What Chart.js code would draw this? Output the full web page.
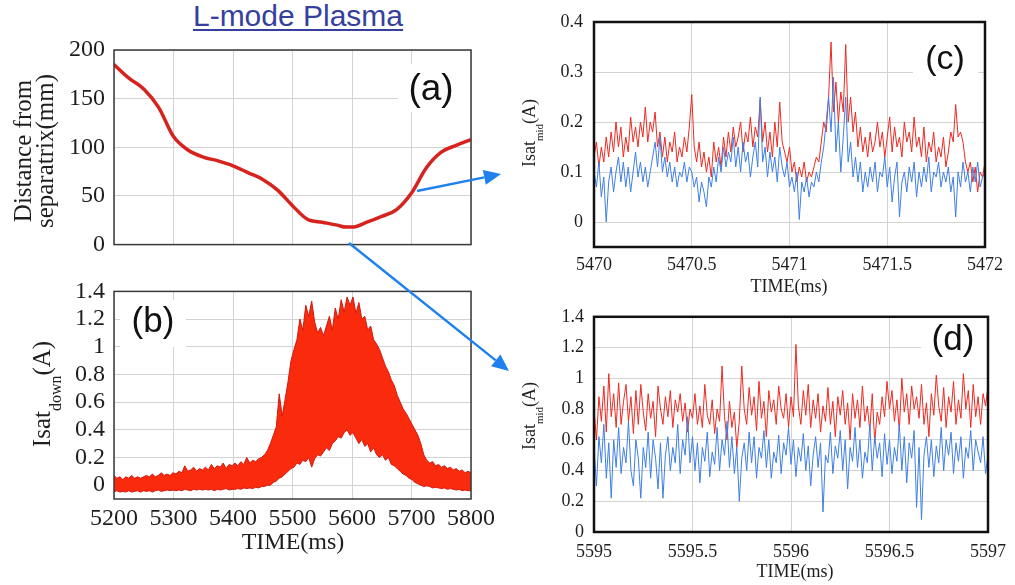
<!DOCTYPE html>
<html>
<head>
<meta charset="utf-8">
<title>L-mode Plasma</title>
<script src="https://cdn.jsdelivr.net/npm/chart.js@4.4.0/dist/chart.umd.min.js"></script>
<style>
    html, body { margin: 0; padding: 0; background: #fff; }
    body { width: 1015px; height: 585px; position: relative; overflow: hidden; }
    canvas.panel { position: absolute; }
    #title {
        position: absolute; left: 0; top: -1px; width: 596px; line-height: 34px;
        text-align: center; font: 30px 'Liberation Sans', Arial, sans-serif; color: #343f9e;
        text-decoration: underline; text-decoration-thickness: 2px; text-underline-offset: 3px;
    }
    #arrows { position: absolute; left: 0; top: 0; pointer-events: none; z-index: 5; }
</style>
</head>
<body>
<div id="title">L-mode Plasma</div>
<canvas id="chartA" class="panel" width="500" height="268" style="left:0;top:0"></canvas>
<canvas id="chartB" class="panel" width="500" height="317" style="left:0;top:268px"></canvas>
<canvas id="chartC" class="panel" width="515" height="296" style="left:500px;top:0"></canvas>
<canvas id="chartD" class="panel" width="515" height="289" style="left:500px;top:296px"></canvas>
<canvas id="arrows" width="1015" height="585"></canvas>

<script>
// ---- data ----

// (a) distance from separatrix (mm) vs time (ms)
const timeA = [5200, 5225, 5250, 5275, 5300, 5325, 5350, 5375, 5400, 5425, 5450, 5475, 5500,
               5525, 5550, 5575, 5590, 5600, 5625, 5650, 5675, 5700, 5725, 5750, 5775, 5800];
const distA = [185, 171, 160, 141, 111, 97, 90, 86, 81, 74, 67, 56, 40,
               26, 23, 20, 18, 18, 23, 29, 36, 53, 79, 95, 102, 108];

// (b) Isat_down envelope, one value every 5 ms from 5200 to 5800
const upperB = [0.07, 0.05, 0.06, 0.04, 0.06, 0.05, 0.07, 0.05, 0.06, 0.05, 0.06,
                0.07, 0.06, 0.08, 0.06, 0.07, 0.09, 0.07, 0.08, 0.07, 0.09,
                0.08, 0.1, 0.09, 0.14, 0.1, 0.11, 0.13, 0.1, 0.12, 0.11,
                0.13, 0.11, 0.15, 0.12, 0.14, 0.13, 0.16, 0.12, 0.15, 0.14,
                0.16, 0.14, 0.17, 0.15, 0.2, 0.16, 0.18, 0.17, 0.19, 0.2,
                0.22, 0.25, 0.3, 0.36, 0.42, 0.66, 0.5, 0.62, 0.75, 0.9,
                0.98, 1.05, 1.2, 1.12, 1.3, 1.22, 1.33, 1.18, 1.1, 1.14,
                1.08, 1.15, 1.22, 1.12, 1.28, 1.2, 1.34, 1.25, 1.36, 1.3,
                1.36, 1.24, 1.32, 1.2, 1.22, 1.12, 1.15, 1.05, 1.02, 0.98,
                0.92, 0.86, 0.82, 0.76, 0.72, 0.65, 0.6, 0.55, 0.52, 0.48,
                0.44, 0.4, 0.36, 0.3, 0.22, 0.18, 0.16, 0.17, 0.14, 0.15,
                0.13, 0.14, 0.12, 0.13, 0.11, 0.12, 0.1, 0.11, 0.09, 0.1, 0.09];
const lowerB = [-0.05, -0.04, -0.05, -0.045, -0.05, -0.04, -0.05, -0.045, -0.04, -0.05, -0.04,
                -0.045, -0.04, -0.05, -0.04, -0.035, -0.045, -0.04, -0.035, -0.04, -0.035,
                -0.04, -0.035, -0.04, -0.03, -0.035, -0.04, -0.03, -0.035, -0.03, -0.035,
                -0.03, -0.035, -0.03, -0.04, -0.03, -0.035, -0.03, -0.025, -0.035, -0.03,
                -0.03, -0.025, -0.03, -0.02, -0.025, -0.02, -0.025, -0.015, -0.02, -0.01,
                -0.01, 0.0, 0.0, 0.02, 0.03, 0.05, 0.06, 0.08, 0.1, 0.12,
                0.13, 0.16, 0.15, 0.18, 0.17, 0.2, 0.13, 0.19, 0.22, 0.21,
                0.24, 0.27, 0.25, 0.3, 0.32, 0.35, 0.34, 0.38, 0.4, 0.36,
                0.38, 0.34, 0.3, 0.33, 0.28, 0.3, 0.24, 0.27, 0.22, 0.2,
                0.22, 0.18, 0.2, 0.15, 0.14, 0.12, 0.1, 0.08, 0.07, 0.05,
                0.04, 0.02, 0.01, 0.0, -0.01, -0.005, -0.01, -0.02, -0.015, -0.02,
                -0.025, -0.02, -0.03, -0.025, -0.03, -0.035, -0.03, -0.04, -0.035, -0.04, -0.04];

// (c) Isat_mid, 5470 - 5472 ms
const redC = [0.13, 0.16, 0.11, 0.15, 0.12, 0.17, 0.13, 0.18, 0.14,
              0.2, 0.15, 0.19, 0.13, 0.17, 0.14, 0.21, 0.16, 0.19, 0.15, 0.2, 0.17, 0.23, 0.16, 0.2, 0.18,
              0.22, 0.15, 0.18, 0.13, 0.17, 0.12, 0.16, 0.14, 0.18, 0.12, 0.15, 0.13,
              0.17, 0.14, 0.19, 0.255, 0.15, 0.12, 0.16, 0.11,
              0.14, 0.1, 0.13, 0.09, 0.16, 0.12, 0.15, 0.11, 0.17, 0.13, 0.18, 0.14,
              0.19, 0.15, 0.17, 0.2, 0.14, 0.18, 0.16, 0.21, 0.15, 0.19, 0.17, 0.245,
              0.16, 0.2, 0.14, 0.18, 0.13, 0.2, 0.15, 0.24, 0.16, 0.14, 0.12, 0.15,
              0.1, 0.12, 0.08, 0.11, 0.09, 0.12, 0.08, 0.1, 0.09, 0.11, 0.13, 0.12,
              0.16, 0.2, 0.18, 0.25, 0.36, 0.22,
              0.28, 0.2, 0.26, 0.22, 0.355, 0.2, 0.25, 0.18,
              0.22, 0.15, 0.19, 0.14, 0.17, 0.13,
              0.18, 0.14, 0.16, 0.2, 0.15, 0.18, 0.13, 0.17, 0.21, 0.14, 0.19, 0.15, 0.17, 0.13, 0.2, 0.16,
              0.18, 0.14, 0.21, 0.15, 0.17, 0.13, 0.19, 0.12, 0.16, 0.14, 0.18, 0.12, 0.15, 0.13, 0.17, 0.11,
              0.14, 0.18, 0.16, 0.235, 0.17, 0.18, 0.16, 0.12,
              0.1, 0.12, 0.08, 0.11, 0.06, 0.1, 0.09, 0.12];
const blueC = [0.1, 0.07, 0.12, 0.05, 0.09, 0.0, 0.08, 0.11, 0.06,
               0.1, 0.13, 0.08, 0.12, 0.07, 0.11, 0.06, 0.1, 0.14, 0.09, 0.12, 0.08, 0.11, 0.07, 0.1, 0.13,
               0.16, 0.11, 0.17, 0.1, 0.13, 0.09, 0.12, 0.08, 0.11, 0.07, 0.1, 0.09,
               0.12, 0.08, 0.11, 0.1, 0.07, 0.09, 0.04, 0.08,
               0.06, 0.03, 0.09, 0.07, 0.11, 0.08, 0.13, 0.1, 0.15, 0.11, 0.14, 0.12,
               0.17, 0.11, 0.15, 0.1, 0.16, 0.12, 0.14, 0.09, 0.13, 0.16, 0.11, 0.25,
               0.12, 0.15, 0.09, 0.14, 0.1, 0.13, 0.08, 0.15, 0.11, 0.09, 0.12, 0.07,
               0.09, 0.06, 0.1, 0.005, 0.08, 0.06, 0.09, 0.05, 0.08, 0.07, 0.1, 0.08,
               0.12, 0.15, 0.2, 0.25, 0.18, 0.29,
               0.14, 0.2, 0.1, 0.17, 0.25, 0.12, 0.16, 0.09,
               0.13, 0.08, 0.12, 0.06, 0.1, 0.07,
               0.11, 0.08, 0.12, 0.06, 0.1, 0.09, 0.13, 0.07, 0.11, 0.04, 0.09, 0.12, 0.01, 0.08, 0.1, 0.06,
               0.11, 0.08, 0.12, 0.05, 0.1, 0.07, 0.11, 0.08, 0.13, 0.06, 0.1, 0.09, 0.12, 0.07, 0.1, 0.08,
               0.11, 0.06, 0.09, 0.01, 0.1, 0.07, 0.12, 0.08,
               0.1, 0.06, 0.11, 0.08, 0.12, 0.07, 0.09, 0.1];

// (d) Isat_mid, 5595 - 5597 ms
const redD = [0.8, 0.6, 0.88, 0.72, 0.95, 0.65, 1.03, 0.75, 0.9, 0.68, 0.97, 0.7, 0.85, 0.96, 0.72, 0.88, 0.64, 0.92, 0.7, 0.96,
              0.78, 0.66, 0.9, 0.74, 0.85, 0.62, 0.95, 0.8, 0.7, 0.88, 0.75, 0.92, 0.68, 0.86, 0.78, 0.9, 0.72, 0.84, 0.65, 0.8,
              0.74, 0.9, 0.7, 0.82, 0.68, 0.96, 0.76, 0.7, 0.86, 0.64, 0.8, 0.72, 1.08, 0.75, 0.6, 0.85, 0.68, 0.78, 0.55, 0.72,
              1.08, 0.8, 0.7, 0.94, 0.76, 0.88, 0.66, 0.98, 0.74, 0.85, 0.62, 0.92, 0.78, 0.86, 0.7, 0.95, 0.8, 0.74, 0.9, 0.68,
              0.88, 0.75, 1.22, 0.82, 0.7, 0.92, 0.76, 0.96, 0.68, 0.86, 0.74, 0.9, 0.65, 0.82, 0.72, 0.94, 0.7, 0.85, 0.62, 0.88,
              0.76, 0.92, 0.7, 0.84, 0.6, 0.9, 0.74, 0.86, 0.68, 0.95, 0.72, 0.82, 0.66, 0.9, 0.58, 0.78, 0.7, 0.88, 0.75, 0.98,
              0.8, 0.92, 0.72, 0.86, 0.66, 1.0, 0.78, 0.9, 0.7, 0.95, 0.8, 0.88, 0.74, 0.96, 0.7, 0.84, 0.62, 0.9, 0.76, 1.02,
              0.82, 0.72, 0.94, 0.68, 0.88, 0.78, 0.98, 0.7, 0.86, 0.74, 1.03, 0.8, 0.92, 0.68, 0.96, 0.75, 0.88, 0.7, 0.9, 0.82,
              0.95];
const blueD = [0.55, 0.3, 0.62, 0.45, 0.7, 0.35, 0.58, 0.22, 0.6, 0.42, 0.68, 0.38, 0.55, 0.45, 0.72, 0.4, 0.3, 0.6, 0.48, 0.22,
               0.55, 0.42, 0.65, 0.35, 0.6, 0.48, 0.28, 0.58, 0.22, 0.5, 0.62, 0.4, 0.55, 0.45, 0.7, 0.38, 0.6, 0.5, 0.75, 0.45,
               0.62, 0.4, 0.58, 0.32, 0.55, 0.46, 0.65, 0.36, 0.52, 0.44, 0.68, 0.4, 0.6, 0.5, 0.72, 0.42, 0.62, 0.38, 0.55, 0.2,
               0.48, 0.58, 0.4, 0.65, 0.45, 0.62, 0.35, 0.55, 0.48, 0.66, 0.42, 0.6, 0.35, 0.52, 0.45, 0.63, 0.38, 0.58, 0.5, 0.68,
               0.44, 0.6, 0.36, 0.55, 0.46, 0.64, 0.4, 0.56, 0.3, 0.5, 0.62, 0.42, 0.58, 0.13, 0.5, 0.45, 0.65, 0.38, 0.56, 0.48,
               0.66, 0.4, 0.6, 0.28, 0.55, 0.46, 0.68, 0.42, 0.6, 0.35, 0.52, 0.45, 0.7, 0.4, 0.62, 0.48, 0.58, 0.36, 0.64, 0.44,
               0.6, 0.38, 0.55, 0.46, 0.7, 0.4, 0.62, 0.32, 0.58, 0.48, 0.66, 0.16, 0.55, 0.08, 0.5, 0.62, 0.42, 0.6, 0.36, 0.56,
               0.45, 0.68, 0.4, 0.6, 0.5, 0.65, 0.38, 0.58, 0.46, 0.62, 0.35, 0.55, 0.48, 0.66, 0.4, 0.6, 0.52, 0.45, 0.62, 0.38,
               0.5];

// tick values
const xTicksAB = [5200, 5300, 5400, 5500, 5600, 5700, 5800];
const yTicksA = [0, 50, 100, 150, 200];
const yTicksB = [0, 0.2, 0.4, 0.6, 0.8, 1, 1.2, 1.4];
const xTicksC = [5470, 5470.5, 5471, 5471.5, 5472];
const yTicksC = [0, 0.1, 0.2, 0.3, 0.4];
const xTicksD = [5595, 5595.5, 5596, 5596.5, 5597];
const yTicksD = [0, 0.2, 0.4, 0.6, 0.8, 1, 1.2, 1.4];

document.addEventListener('DOMContentLoaded', function() {
    const colors = {
        curve: '#d6231e',
        fill: '#fa2a0c',
        fillEdge: '#d11a10',
        red: '#ec2a22',
        blue: '#3f7fe4',
        grid: '#d3d3d3',
        text: '#1e1e1e',
        arrow: '#1f80ee'
    };
    const serif = '"Liberation Serif", "Times New Roman", serif';
    const sans = '"Liberation Sans", Arial, sans-serif';

    // spread y-values over an evenly sampled time window
    function toPoints(values, t0, t1) {
        const step = (t1 - t0) / (values.length - 1);
        return values.map((v, i) => ({ x: t0 + i * step, y: v }));
    }

    // frame, label box, axis titles
    const panelDeco = {
        id: 'panelDeco',
        afterDatasetsDraw(chart, args, o) {
            const ctx = chart.ctx;
            const a = chart.chartArea;
            ctx.save();
            // white box behind the panel letter
            ctx.fillStyle = '#fff';
            ctx.fillRect(o.box[0] - o.left, o.box[1] - o.top, o.box[2] - o.box[0], o.box[3] - o.box[1]);
            ctx.fillStyle = '#111';
            ctx.font = o.labelSize + 'px ' + sans;
            ctx.textAlign = 'center';
            ctx.textBaseline = 'middle';
            ctx.fillText(o.label, o.labelX - o.left, o.labelY - o.top);

            // frame
            ctx.strokeStyle = o.frameColor;
            ctx.lineWidth = o.frameWidth;
            ctx.strokeRect(a.left, a.top, a.right - a.left, a.bottom - a.top);

            // rotated y titles (with subscripts)
            ctx.fillStyle = colors.text;
            ctx.textAlign = 'left';
            ctx.textBaseline = 'alphabetic';
            o.yTitles.forEach(function(run) {
                let total = 0;
                run.parts.forEach(function(p) {
                    ctx.font = p[1] + 'px ' + serif;
                    total += ctx.measureText(p[0]).width;
                });
                ctx.save();
                ctx.translate(run.x - o.left, run.y - o.top);
                ctx.rotate(-Math.PI / 2);
                let pos = -total / 2;
                run.parts.forEach(function(p) {
                    ctx.font = p[1] + 'px ' + serif;
                    ctx.fillText(p[0], pos, p[2]);
                    pos += ctx.measureText(p[0]).width;
                });
                ctx.restore();
            });

            // x title
            if (o.xTitle) {
                ctx.font = o.xTitle.size + 'px ' + serif;
                ctx.textAlign = 'center';
                ctx.textBaseline = 'middle';
                ctx.fillText(o.xTitle.text, o.xTitle.x - o.left, o.xTitle.y - o.top);
            }
            ctx.restore();
        }
    };

    function panelOptions(cfg) {
        return {
            responsive: false,
            animation: false,
            layout: { padding: cfg.padding },
            elements: { point: { radius: 0 } },
            plugins: {
                legend: { display: false },
                tooltip: { enabled: false },
                panelDeco: cfg.deco
            },
            scales: {
                x: {
                    type: 'linear',
                    min: cfg.xTicks[0],
                    max: cfg.xTicks[cfg.xTicks.length - 1],
                    afterBuildTicks: s => { s.ticks = cfg.xTicks.map(v => ({ value: v })); },
                    afterFit: s => { s.height = cfg.xAxisH; },
                    grid: { color: colors.grid, drawTicks: false },
                    border: { display: false },
                    ticks: {
                        display: cfg.showX,
                        padding: cfg.xPad,
                        maxRotation: 0,
                        autoSkip: false,
                        color: colors.text,
                        font: { family: serif, size: cfg.tickSize },
                        callback: v => String(v)
                    }
                },
                y: {
                    min: cfg.yMin,
                    max: cfg.yMax,
                    afterBuildTicks: s => { s.ticks = cfg.yTicks.map(v => ({ value: v })); },
                    afterFit: s => { s.width = cfg.yAxisW; },
                    grid: { color: colors.grid, drawTicks: false },
                    border: { display: false },
                    ticks: {
                        padding: cfg.yPad,
                        autoSkip: false,
                        color: colors.text,
                        font: { family: serif, size: cfg.tickSize },
                        callback: v => String(v)
                    }
                }
            }
        };
    }

    // (a) distance from separatrix
    new Chart(document.getElementById('chartA'), {
        type: 'line',
        data: {
            datasets: [{
                data: timeA.map((t, i) => ({ x: t, y: distA[i] })),
                borderColor: colors.curve,
                borderWidth: 3.5,
                cubicInterpolationMode: 'monotone',
                fill: false
            }]
        },
        options: panelOptions({
            padding: { top: 50, left: 0, right: 29, bottom: 0 },
            xTicks: xTicksAB, yTicks: yTicksA, yMin: 0, yMax: 200,
            xAxisH: 14, yAxisW: 114, showX: false, xPad: 5, yPad: 9, tickSize: 24,
            deco: {
                left: 0, top: 0,
                box: [398, 64, 470, 112], label: '(a)', labelX: 431, labelY: 90, labelSize: 37,
                frameColor: '#3a3a3a', frameWidth: 1.5,
                yTitles: [
                    { x: 31, y: 151, parts: [['Distance from', 25, 0]] },
                    { x: 53, y: 151, parts: [['separatrix(mm)', 25, 0]] }
                ]
            }
        }),
        plugins: [panelDeco]
    });

    // (b) Isat_down over the whole discharge window
    new Chart(document.getElementById('chartB'), {
        type: 'line',
        data: {
            datasets: [
                {
                    data: toPoints(lowerB, 5200, 5800),
                    borderColor: colors.fillEdge,
                    borderWidth: 1,
                    fill: false
                },
                {
                    data: toPoints(upperB, 5200, 5800),
                    borderColor: colors.fillEdge,
                    borderWidth: 1,
                    backgroundColor: colors.fill,
                    fill: '-1'
                }
            ]
        },
        options: panelOptions({
            padding: { top: 22, left: 0, right: 29, bottom: 0 },
            xTicks: xTicksAB, yTicks: yTicksB, yMin: -0.1, yMax: 1.4,
            xAxisH: 86, yAxisW: 114, showX: true, xPad: 5, yPad: 9, tickSize: 24,
            deco: {
                left: 0, top: 268,
                box: [120, 300, 186, 347], label: '(b)', labelX: 153, labelY: 322, labelSize: 35,
                frameColor: '#3a3a3a', frameWidth: 1.5,
                yTitles: [{ x: 50, y: 394, parts: [['Isat', 25, 0], ['down', 16, 11], ['(A)', 25, 0]] }],
                xTitle: { text: 'TIME(ms)', x: 293, y: 543, size: 24 }
            }
        }),
        plugins: [panelDeco]
    });

    // (c) zoom 5470-5472 ms
    new Chart(document.getElementById('chartC'), {
        type: 'line',
        data: {
            datasets: [
                { data: toPoints(blueC, 5470, 5472), borderColor: colors.blue, borderWidth: 1, fill: false },
                { data: toPoints(redC, 5470, 5472), borderColor: colors.red, borderWidth: 1, fill: false }
            ]
        },
        options: panelOptions({
            padding: { top: 22, left: 0, right: 30, bottom: 0 },
            xTicks: xTicksC, yTicks: yTicksC, yMin: -0.05, yMax: 0.4,
            xAxisH: 49, yAxisW: 94, showX: true, xPad: 7, yPad: 11, tickSize: 18,
            deco: {
                left: 500, top: 0,
                box: [913, 36, 978, 82], label: '(c)', labelX: 945, labelY: 60, labelSize: 34,
                frameColor: '#111', frameWidth: 2.5,
                yTitles: [{ x: 535, y: 133, parts: [['Isat', 18, 0], ['mid', 11, 8], ['(A)', 18, 0]] }],
                xTitle: { text: 'TIME(ms)', x: 789, y: 287, size: 18 }
            }
        }),
        plugins: [panelDeco]
    });

    // (d) zoom 5595-5597 ms
    new Chart(document.getElementById('chartD'), {
        type: 'line',
        data: {
            datasets: [
                { data: toPoints(blueD, 5595, 5597), borderColor: colors.blue, borderWidth: 1, fill: false },
                { data: toPoints(redD, 5595, 5597), borderColor: colors.red, borderWidth: 1, fill: false }
            ]
        },
        options: panelOptions({
            padding: { top: 4, left: 0, right: 21, bottom: 0 },
            xTicks: xTicksD, yTicks: yTicksD, yMin: 0, yMax: 1.4,
            xAxisH: 53, yAxisW: 94, showX: true, xPad: 9, yPad: 10, tickSize: 18,
            deco: {
                left: 500, top: 296,
                box: [921, 303, 990, 362], label: '(d)', labelX: 953, labelY: 340, labelSize: 35,
                frameColor: '#111', frameWidth: 2.5,
                yTitles: [{ x: 535, y: 416, parts: [['Isat', 18, 0], ['mid', 11, 8], ['(A)', 18, 0]] }],
                xTitle: { text: 'TIME(ms)', x: 795, y: 572, size: 18 }
            }
        }),
        plugins: [panelDeco]
    });

    // blue pointer arrows from (a) to the zoomed panels
    const actx = document.getElementById('arrows').getContext('2d');
    function drawArrow(x1, y1, x2, y2) {
        const ang = Math.atan2(y2 - y1, x2 - x1);
        const head = 17, half = 7.5;
        const bx = x2 - head * Math.cos(ang), by = y2 - head * Math.sin(ang);
        actx.strokeStyle = colors.arrow;
        actx.fillStyle = colors.arrow;
        actx.lineWidth = 2.5;
        actx.beginPath();
        actx.moveTo(x1, y1);
        actx.lineTo(bx, by);
        actx.stroke();
        actx.beginPath();
        actx.moveTo(x2, y2);
        actx.lineTo(bx + half * Math.sin(ang), by - half * Math.cos(ang));
        actx.lineTo(bx - half * Math.sin(ang), by + half * Math.cos(ang));
        actx.closePath();
        actx.fill();
    }
    drawArrow(417, 191, 501, 174);
    drawArrow(349, 243, 509, 371);
});
</script>
</body>
</html>
